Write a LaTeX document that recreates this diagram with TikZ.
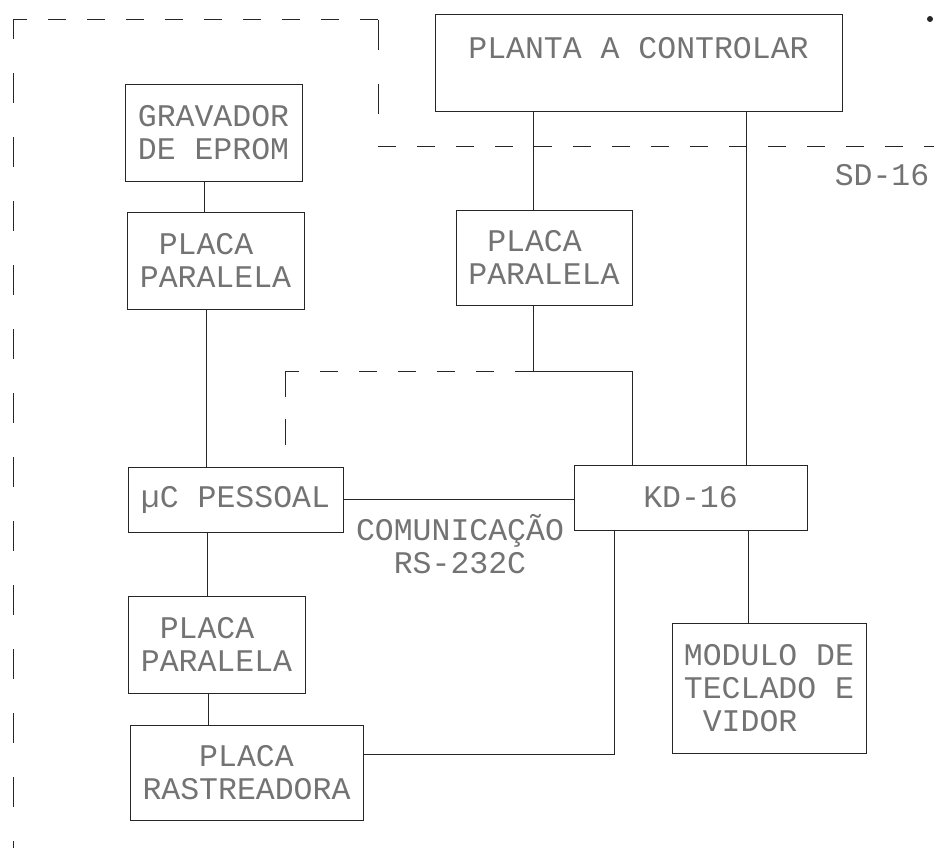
\documentclass[tikz,border=0pt]{standalone}
\usepackage{fontspec}
\newfontfamily\dotfont{Liberation Mono}
\begin{document}
\begin{tikzpicture}[x=1pt,y=-1pt,
  line/.style={draw=black!85, line width=1pt},
  box/.style={line, rectangle, inner sep=0pt, text=black!55, align=left,
    font=\dotfont\fontsize{31.5}{33}\selectfont},
  lbl/.style={inner sep=0pt, text=black!55, align=center,
    font=\dotfont\fontsize{31.5}{33}\selectfont},
  hdash/.style={line, dash pattern=on 18pt off 21pt},
  vdash/.style={line, dash pattern=on 30pt off 34pt}]
\useasboundingbox (0,0) rectangle (934,848);

% boxes
\node[box, minimum width=407pt, minimum height=97pt] (planta) at (638.5,63.5) {PLANTA A CONTROLAR\\[-12pt]\strut};
\node[box, minimum width=177pt, minimum height=96pt] (gravador) at (213.5,133) {GRAVADOR\\DE EPROM};
\node[box, minimum width=177pt, minimum height=97pt] (placaA) at (215.5,260.5) {\hphantom{P}PLACA\\PARALELA};
\node[box, minimum width=176pt, minimum height=95pt] (placaB) at (544,257.5) {\hphantom{P}PLACA\\PARALELA};
\node[box, minimum width=215pt, minimum height=65pt] (mu) at (235.5,499.5) {µC PESSOAL};
\node[box, minimum width=233pt, minimum height=65pt] (kd) at (690.5,497.5) {KD-16};
\node[box, minimum width=177pt, minimum height=97pt] (placaC) at (216.5,644.5) {\hphantom{P}PLACA\\PARALELA};
\node[box, minimum width=233pt, minimum height=95pt] (rast) at (246.5,772.5) {\hphantom{PPP}PLACA\\RASTREADORA};
\node[box, minimum width=194pt, minimum height=130pt] (modulo) at (769,688) {MODULO DE\\TECLADO E\\\hphantom{M}VIDOR};

% labels
\node[lbl] (sd) at (882,175) {SD-16};
\node[lbl] (com) at (460,544) {COMUNICAÇÃO\\RS-232C};
\fill[black!85] (930,19) circle (3pt);

% helper coordinates
\coordinate (xg) at (204,0);
\coordinate (xa) at (206,0);
\coordinate (xm) at (207,0);
\coordinate (xc) at (208,0);
\coordinate (xp1) at (533,0);
\coordinate (xp2) at (746,0);
\coordinate (xk1) at (632,0);
\coordinate (xk2) at (614,0);
\coordinate (xk3) at (748,0);
\coordinate (xd) at (285,0);
\coordinate (y499) at (0,499);
\coordinate (y754) at (0,754);
\coordinate (j1) at (533,371);
\coordinate (j2) at (285,371);

% solid connectors
\draw[line] (gravador.south -| xg) -- (placaA.north -| xg);
\draw[line] (placaA.south -| xa) -- (mu.north -| xa);
\draw[line] (mu.south -| xm) -- (placaC.north -| xm);
\draw[line] (placaC.south -| xc) -- (rast.north -| xc);
\draw[line] (planta.south -| xp1) -- (placaB.north -| xp1);
\draw[line] (planta.south -| xp2) -- (kd.north -| xp2);
\draw[line] (placaB.south -| xp1) -- (j1) -| (kd.north -| xk1);
\draw[line] (mu.east |- y499) -- (kd.west |- y499);
\draw[line] (kd.south -| xk2) |- (rast.east |- y754);
\draw[line] (kd.south -| xk3) -- (modulo.north -| xk3);

% dashed connector
\draw[hdash] (j1) -- (j2);
\draw[line, dash pattern=on 26pt off 22pt] (j2) -- (mu.north -| xd);

% dashed boundary of SD-16
\coordinate (b1) at (13,848);
\coordinate (b2) at (13,20);
\coordinate (b3) at (378,20);
\coordinate (b4) at (378,147);
\coordinate (b5) at (934,147);
\draw[vdash, dash phase=11pt] (b2) -- (b1);
\draw[hdash] (b3) -- (b2);
\draw[vdash] (b3) -- (b4);
\draw[hdash] (b4) -- (b5);
\end{tikzpicture}
\end{document}
